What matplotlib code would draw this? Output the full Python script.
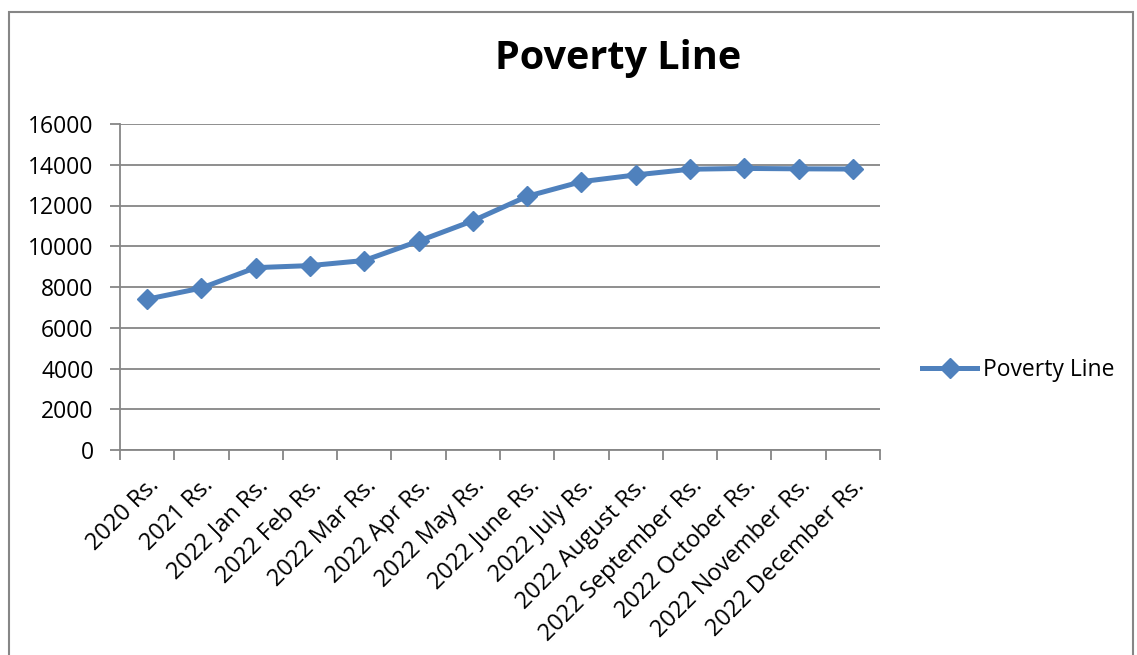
import numpy as np
import matplotlib.pyplot as plt
from matplotlib.patches import Rectangle

months = ['2020 Rs.', '2021 Rs.', '2022 Jan Rs.', '2022 Feb Rs.', '2022 Mar Rs.',
          '2022 Apr Rs.', '2022 May Rs.', '2022 June Rs.', '2022 July Rs.',
          '2022 August Rs.', '2022 September Rs.', '2022 October Rs.',
          '2022 November Rs.', '2022 December Rs.']
poverty_line = [7400, 7950, 8950, 9050, 9300, 10250, 11250, 12450, 13170,
                13500, 13780, 13820, 13800, 13790]
y_ticks = [0, 2000, 4000, 6000, 8000, 10000, 12000, 14000, 16000]

plt.rcParams['font.family'] = ['Open Sans', 'DejaVu Sans']
grey = '#868686'
blue = '#4F81BD'

W, H = 1137, 655
fig = plt.figure(figsize=(W / 100, H / 100), dpi=100)
# outer chart frame (bottom edge runs off the image)
fig.patches.append(Rectangle((9 / W, -0.05), (1133 - 9) / W, 1.05 - 12 / H,
                             transform=fig.transFigure, fill=False,
                             edgecolor=grey, linewidth=1.5))

ax = fig.add_axes([120 / W, 1 - 450 / H, (880 - 120) / W, (450 - 124) / H])
x = np.arange(len(months))
ax.plot(x, poverty_line, color=blue, linewidth=3.6, marker='D', markersize=10,
        markeredgecolor=blue, label='Poverty Line', solid_joinstyle='round')

ax.set_xlim(-0.5, len(months) - 0.5)
ax.set_ylim(0, 16000)
ax.set_yticks(y_ticks)
ax.set_yticklabels([str(v) for v in y_ticks], fontsize=16.5)
ax.yaxis.grid(True, color=grey, linewidth=1.3)
ax.set_axisbelow(True)

ax.set_xticks(x)
ax.set_xticklabels(months, rotation=45, ha='right', rotation_mode='anchor', fontsize=17)
ax.set_xticks(np.arange(len(months) + 1) - 0.5, minor=True)
ax.tick_params(axis='x', which='major', length=0, pad=17)
ax.tick_params(axis='x', which='minor', length=7, color=grey, width=1.3)
ax.tick_params(axis='y', length=7, color=grey, width=1.3, pad=12)

for side in ['top', 'right']:
    ax.spines[side].set_visible(False)
for side in ['left', 'bottom']:
    ax.spines[side].set_color(grey)
    ax.spines[side].set_linewidth(1.3)

fig.text(618 / W, 1 - 58 / H, 'Poverty Line', ha='center', va='center',
         fontsize=28.5, fontweight='bold')

ax.legend(loc='center left', bbox_to_anchor=(911 / W, 1 - 370 / H),
          bbox_transform=fig.transFigure, frameon=False, fontsize=16.5,
          handlelength=2.4, handletextpad=0.25, borderpad=0)

fig.savefig('out.png', dpi=100)
